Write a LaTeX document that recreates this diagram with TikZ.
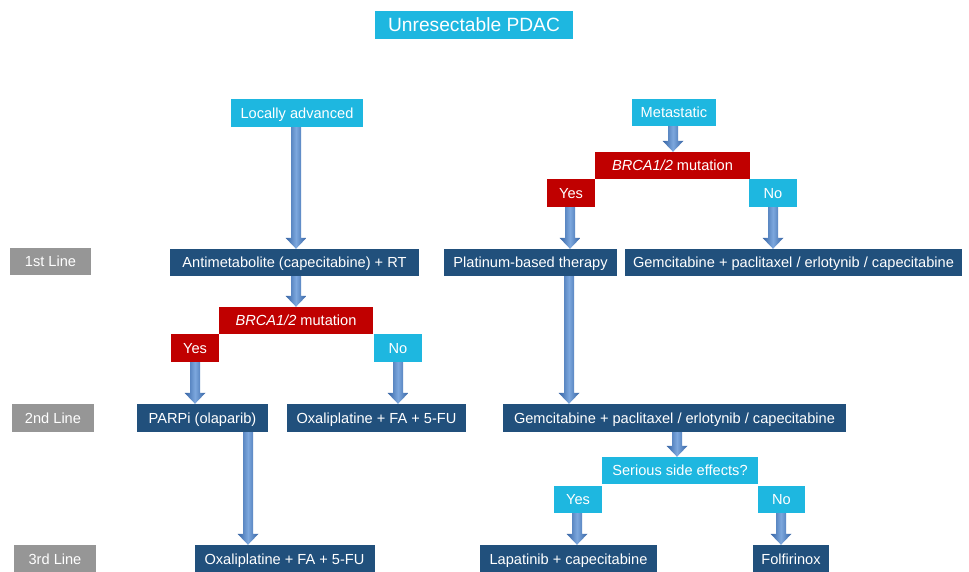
\documentclass[tikz,border=0pt]{standalone}
\usepackage{fontspec}
\setmainfont{Liberation Sans}
\usetikzlibrary{calc}
\definecolor{cyanc}{RGB}{30,183,224}
\definecolor{navyc}{RGB}{33,80,124}
\definecolor{redc}{RGB}{192,0,0}
\definecolor{grayc}{RGB}{150,150,150}
\definecolor{arrowdark}{RGB}{52,98,163}
\definecolor{arrowlight}{RGB}{125,168,222}
\tikzset{
  basebox/.style={inner sep=0pt, text=white, font=\fontsize{14.6}{16}\selectfont, minimum height=28pt, text height=10.5pt, text depth=0pt},
  cyanbox/.style={basebox, fill=cyanc},
  navybox/.style={basebox, fill=navyc},
  redbox/.style={basebox, fill=redc},
  graybox/.style={basebox, fill=grayc},
  arrowshade/.style={left color=arrowdark, right color=arrowdark, middle color=arrowlight},
}
\newcommand\barrow[3]{%
  \shade[arrowshade] let \p1=(#2.south), \p2=(#3.north) in
    (#1pt-5pt,\y1) -- (#1pt+5pt,\y1) -- (#1pt+5pt,\y2+11pt) -- (#1pt+10.5pt,\y2+11pt)
    -- (#1pt,\y2) -- (#1pt-10.5pt,\y2+11pt) -- (#1pt-5pt,\y2+11pt) -- cycle;}
\begin{document}
\begin{tikzpicture}[x=1pt,y=-1pt]
\useasboundingbox (0,0) rectangle (969,571);
\clip (0,0) rectangle (969,571);
% title
\node[cyanbox, minimum width=198pt, font=\fontsize{19.2}{21}\selectfont, text height=13.8pt] (title) at (474,25) {Unresectable PDAC};
% row labels
\node[graybox, minimum width=81pt, minimum height=27pt] (l1) at (50.5,261.5) {1st Line};
\node[graybox, minimum width=82pt] (l2) at (53,418) {2nd Line};
\node[graybox, minimum width=82pt] (l3) at (55,559) {3rd Line};
% left branch
\node[cyanbox, minimum width=132pt] (loc) at (297,113) {Locally advanced};
\node[navybox, minimum width=249pt, minimum height=27pt] (anti) at (294.5,262.5) {Antimetabolite (capecitabine) + RT};
\node[redbox, minimum width=154pt, minimum height=27pt] (brcaL) at (296,320.5) {\textit{BRCA1/2} mutation};
\node[redbox, minimum width=48pt] (yesL) at (195,348) {Yes};
\node[cyanbox, minimum width=48pt] (noL) at (398,348) {No};
\node[navybox, minimum width=131pt] (parp) at (202.5,418) {PARPi (olaparib)};
\node[navybox, minimum width=179pt] (oxa2) at (376.5,418) {Oxaliplatine + FA + 5-FU};
\node[navybox, minimum width=180pt] (oxa3) at (284.5,559) {Oxaliplatine + FA + 5-FU};
% right branch
\node[cyanbox, minimum width=84pt, minimum height=27pt] (meta) at (674,112.5) {Metastatic};
\node[redbox, minimum width=155pt, minimum height=27pt] (brcaR) at (672.5,165.5) {\textit{BRCA1/2} mutation};
\node[redbox, minimum width=48pt] (yesR) at (571,193) {Yes};
\node[cyanbox, minimum width=48pt] (noR) at (773,193) {No};
\node[navybox, minimum width=173pt, minimum height=27pt] (plat) at (530.5,262.5) {Platinum-based therapy};
\node[navybox, minimum width=337pt, minimum height=27pt] (gem1) at (793.5,262.5) {Gemcitabine + paclitaxel / erlotynib / capecitabine};
\node[navybox, minimum width=343pt] (gem2) at (674.5,418) {Gemcitabine + paclitaxel / erlotynib / capecitabine};
\node[cyanbox, minimum width=156pt, minimum height=27pt] (side) at (680,470.5) {Serious side effects?};
\node[cyanbox, minimum width=48pt, minimum height=27pt] (yesS) at (578,499.5) {Yes};
\node[cyanbox, minimum width=47pt, minimum height=27pt] (noS) at (781.5,499.5) {No};
\node[navybox, minimum width=177pt] (lap) at (568.5,559) {Lapatinib + capecitabine};
\node[navybox, minimum width=76pt] (folf) at (791,559) {Folfirinox};
% arrows
\barrow{296}{loc}{anti}
\barrow{296}{anti}{brcaL}
\barrow{195}{yesL}{parp}
\barrow{398}{noL}{oxa2}
\barrow{248}{parp}{oxa3}
\barrow{673}{meta}{brcaR}
\barrow{570}{yesR}{plat}
\barrow{773}{noR}{gem1}
\barrow{569}{plat}{gem2}
\barrow{677}{gem2}{side}
\barrow{577}{yesS}{lap}
\barrow{781}{noS}{folf}
\end{tikzpicture}
\end{document}
